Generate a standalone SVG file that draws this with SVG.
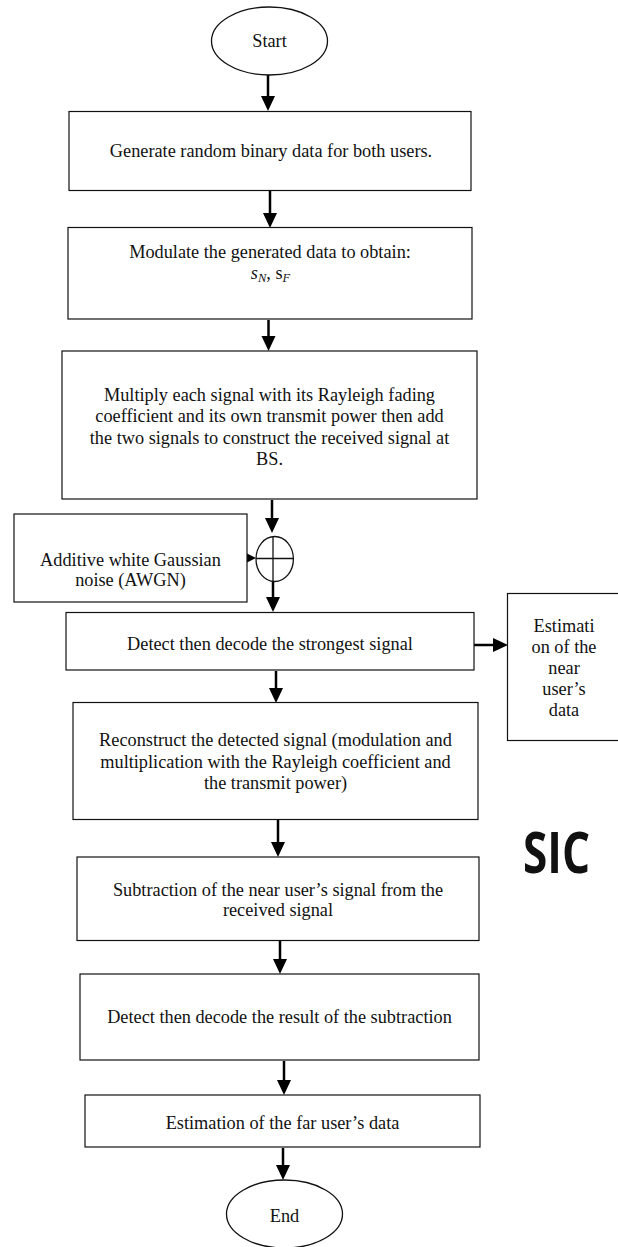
<svg xmlns="http://www.w3.org/2000/svg" width="618" height="1247" viewBox="0 0 618 1247">
  <style>
    .box { fill: #fff; stroke: #111; stroke-width: 1.2; }
    .term { fill: #fff; stroke: #111; stroke-width: 1.3; }
    .t { font-family: "Liberation Serif", "Times New Roman", serif; font-size: 18.3px; fill: #111; text-anchor: middle; }
    .m { font-family: "Liberation Serif", "Times New Roman", serif; font-style: italic; font-size: 18.3px; fill: #111; text-anchor: middle; }
    .flow { stroke: #000; stroke-width: 2.5; fill: none; marker-end: url(#head); }
    .sic { font-family: "Open Sans", "DejaVu Sans", sans-serif; font-weight: bold; font-size: 58px; fill: #111; }
  </style>
  <defs>
    <marker id="head" markerUnits="userSpaceOnUse" markerWidth="16" markerHeight="16" refX="6" refY="7" orient="auto">
      <path d="M0,0 L15,7 L0,14 z" fill="#000"/>
    </marker>
  </defs>

  <rect width="618" height="1247" fill="#fff"/>

  <!-- flow connectors -->
  <g id="connectors">
    <line class="flow" x1="268" y1="75" x2="268" y2="102"/>
    <line class="flow" x1="270" y1="191" x2="270" y2="219"/>
    <line class="flow" x1="268.5" y1="320" x2="268.5" y2="342"/>
    <line class="flow" x1="272" y1="500" x2="272" y2="524"/>
    <line class="flow" x1="273" y1="581" x2="273" y2="603"/>
    <line class="flow" x1="472" y1="645" x2="499" y2="645"/>
    <line class="flow" x1="276" y1="671" x2="276" y2="694"/>
    <line class="flow" x1="278" y1="820" x2="278" y2="848"/>
    <line class="flow" x1="280" y1="941" x2="280" y2="965"/>
    <line class="flow" x1="284" y1="1061" x2="284" y2="1086"/>
    <line class="flow" x1="283" y1="1148" x2="283" y2="1171"/>
    <!-- noise input into the summing junction -->
    <polygon points="247,553.5 256,558 247,562.5" fill="#000"/>
  </g>

  <g id="start">
    <ellipse class="term" cx="269.5" cy="41" rx="58" ry="34"/>
    <text class="t" x="269.5" y="47">Start</text>
  </g>

  <g id="generate">
    <rect class="box" x="69" y="111.5" width="402" height="79"/>
    <text class="t" x="271" y="157">Generate random binary data for both users.</text>
  </g>

  <g id="modulate">
    <rect class="box" x="68" y="227.5" width="404" height="91.5"/>
    <text class="t" x="270" y="258">Modulate the generated data to obtain:</text>
    <text class="m" x="270.5" y="279">s<tspan font-size="12.5px" dy="3">N</tspan><tspan dy="-3" font-style="normal">, s</tspan><tspan font-size="12.5px" dy="3">F</tspan></text>
  </g>

  <g id="combine">
    <rect class="box" x="62" y="351" width="415" height="148"/>
    <text class="t" x="269.5" y="401">Multiply each signal with its Rayleigh fading</text>
    <text class="t" x="269.5" y="422">coefficient and its own transmit power then add</text>
    <text class="t" x="269.5" y="443.5">the two signals to construct the received signal at</text>
    <text class="t" x="269.5" y="464.5">BS.</text>
  </g>

  <g id="awgn">
    <rect class="box" x="14" y="514" width="233" height="88"/>
    <text class="t" x="130.5" y="566">Additive white Gaussian</text>
    <text class="t" x="130.5" y="586">noise (AWGN)</text>
  </g>

  <g id="sum">
    <ellipse class="term" cx="274.7" cy="559" rx="18.7" ry="22.5"/>
    <line x1="256" y1="558.5" x2="293.4" y2="558.5" stroke="#111" stroke-width="1.3"/>
    <line x1="273" y1="536.5" x2="273" y2="581.5" stroke="#111" stroke-width="1.3"/>
  </g>

  <g id="detect-strong">
    <rect class="box" x="66" y="612.5" width="408" height="57.5"/>
    <text class="t" x="270" y="650">Detect then decode the strongest signal</text>
  </g>

  <g id="near-estimate">
    <rect class="box" x="507.5" y="593.5" width="115" height="147"/>
    <text class="t" x="564" y="632">Estimati</text>
    <text class="t" x="564" y="653">on of the</text>
    <text class="t" x="564" y="674">near</text>
    <text class="t" x="564" y="695">user’s</text>
    <text class="t" x="564" y="716">data</text>
  </g>

  <g id="reconstruct">
    <rect class="box" x="73" y="702.5" width="405" height="117"/>
    <text class="t" x="275.5" y="746">Reconstruct the detected signal (modulation and</text>
    <text class="t" x="275.5" y="767.5">multiplication with the Rayleigh coefficient and</text>
    <text class="t" x="275.5" y="789">the transmit power)</text>
  </g>

  <g id="subtract">
    <rect class="box" x="77" y="857" width="402" height="83.5"/>
    <text class="t" x="278" y="896">Subtraction of the near user’s signal from the</text>
    <text class="t" x="278" y="916">received signal</text>
  </g>

  <g id="detect-far">
    <rect class="box" x="80" y="974" width="399" height="86"/>
    <text class="t" x="279.5" y="1023">Detect then decode the result of the subtraction</text>
  </g>

  <g id="far-estimate">
    <rect class="box" x="85" y="1095" width="395" height="52"/>
    <text class="t" x="282.5" y="1128.5">Estimation of the far user’s data</text>
  </g>

  <g id="end">
    <ellipse class="term" cx="284.5" cy="1214" rx="58" ry="34"/>
    <text class="t" x="284.5" y="1222">End</text>
  </g>

  <g id="sic-label">
    <text class="sic" x="523" y="873" textLength="67" lengthAdjust="spacingAndGlyphs">SIC</text>
  </g>
</svg>
